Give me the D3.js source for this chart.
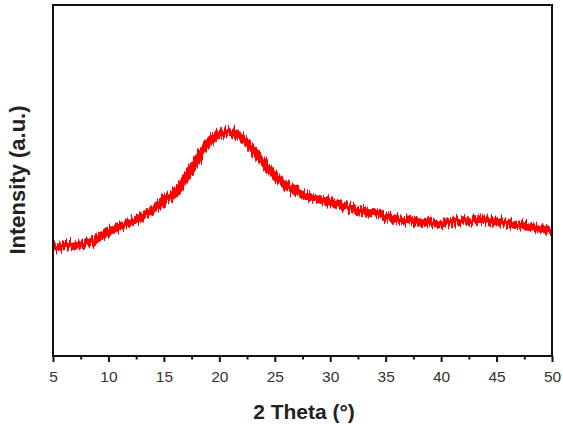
<!DOCTYPE html>
<html>
<head>
<meta charset="utf-8">
<style>
    body { margin: 0; background: #fff; }
    svg { display: block; font-family: Arial, "Liberation Sans", Helvetica, sans-serif; }
</style>
</head>
<body>
<svg width="563" height="429"></svg>
<script src="https://d3js.org/d3.v7.min.js"></script>
<script>
    // 2 theta (deg) and intensity (a.u.)
    const twoTheta = [5, 6, 7, 8, 9, 10, 11, 12, 13, 14, 15, 16, 17, 18, 19, 20, 21, 22, 23, 24, 25, 26, 27,
        28, 29, 30, 31, 32, 33, 34, 35, 36, 37, 38, 39, 40, 41, 42, 43, 44, 45, 46, 47, 48, 49, 50];
    const intensity = [308, 313, 318, 322, 336, 353, 370, 385, 399, 413, 444, 464, 510, 558, 607, 632, 638,
        621, 587, 550, 513, 487, 467, 456, 447, 439, 430, 419, 413, 405, 396, 390, 385, 380, 379, 379,
        382, 386, 386, 385, 382, 377, 373, 368, 363, 359];
    const majorTicks = [5, 10, 15, 20, 25, 30, 35, 40, 45, 50];
    const minorTicks = [7.5, 12.5, 17.5, 22.5, 27.5, 32.5, 37.5, 42.5, 47.5];

    const width = 563, height = 429;
    const margin = {top: 5, right: 11, bottom: 73, left: 53};

    const svg = d3.select("svg");

    const x = d3.scaleLinear()
        .domain([5, 50])
        .range([margin.left, width - margin.right]);

    const y = d3.scaleLinear()
        .domain([0, 1000])
        .range([height - margin.bottom, margin.top]);

    const data = twoTheta.map((t, i) => ({t: t, v: intensity[i]}));

    // jagged edge for the noisy scan
    const filt = svg.append("defs").append("filter")
        .attr("id", "noisy")
        .attr("filterUnits", "userSpaceOnUse")
        .attr("x", 0).attr("y", 0)
        .attr("width", width).attr("height", height)
        .attr("color-interpolation-filters", "sRGB");
    filt.append("feTurbulence")
        .attr("type", "fractalNoise")
        .attr("baseFrequency", "0.6 0.03")
        .attr("numOctaves", 2)
        .attr("seed", 4)
        .attr("result", "n");
    filt.append("feColorMatrix")
        .attr("in", "n")
        .attr("type", "matrix")
        .attr("values", "0 0 0 0 0.5  0 1 0 0 0  0 0 0 0 0  0 0 0 0 1")
        .attr("result", "m");
    filt.append("feDisplacementMap")
        .attr("in", "SourceGraphic")
        .attr("in2", "m")
        .attr("scale", 14)
        .attr("xChannelSelector", "R")
        .attr("yChannelSelector", "G");

    const line = d3.line()
        .x(d => x(d.t))
        .y(d => y(d.v))
        .curve(d3.curveCatmullRom);

    svg.append("path")
        .datum(data)
        .attr("fill", "none")
        .attr("stroke", "#ff0000")
        .attr("stroke-width", 8.5)
        .attr("stroke-linejoin", "round")
        .attr("filter", "url(#noisy)")
        .attr("d", line);

    // x axis, major + minor ticks
    const xAxis = svg.append("g")
        .attr("transform", `translate(0,${height - margin.bottom})`)
        .call(d3.axisBottom(x).tickValues(majorTicks).tickSize(6).tickPadding(9).tickFormat(d3.format("d")))
        .call(g => g.select(".domain").remove());
    xAxis.selectAll(".tick line").attr("stroke", "#111").attr("stroke-width", 2);
    xAxis.selectAll(".tick text")
        .attr("fill", "#333")
        .attr("font-size", 15.5)
        .attr("font-family", "Arial, 'Liberation Sans', sans-serif");

    svg.append("g")
        .attr("transform", `translate(0,${height - margin.bottom})`)
        .call(d3.axisBottom(x).tickValues(minorTicks).tickSize(3.5).tickFormat(""))
        .call(g => g.select(".domain").remove())
        .selectAll(".tick line").attr("stroke", "#111").attr("stroke-width", 2);

    // frame
    svg.append("rect")
        .attr("x", margin.left)
        .attr("y", margin.top)
        .attr("width", width - margin.left - margin.right)
        .attr("height", height - margin.top - margin.bottom)
        .attr("fill", "none")
        .attr("stroke", "#111")
        .attr("stroke-width", 2);

    svg.append("text")
        .attr("x", 304)
        .attr("y", 419)
        .attr("text-anchor", "middle")
        .attr("font-size", 21)
        .attr("font-weight", "bold")
        .attr("fill", "#222")
        .text("2 Theta (°)");

    svg.append("text")
        .attr("transform", "translate(25,180) rotate(-90)")
        .attr("text-anchor", "middle")
        .attr("font-size", 22)
        .attr("font-weight", "bold")
        .attr("fill", "#222")
        .text("Intensity (a.u.)");
</script>
</body>
</html>
